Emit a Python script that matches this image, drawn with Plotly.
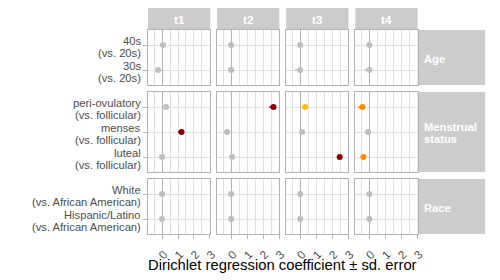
import plotly.graph_objects as go

# ---------------- data ----------------
topics = ["t1", "t2", "t3", "t4"]
groups = ["Age", "Menstrual status", "Race"]
terms = ["40s", "30s", "peri-ovulatory", "menses", "luteal", "White", "Hispanic/Latino"]
term_refs = ["(vs. 20s)", "(vs. 20s)", "(vs. follicular)", "(vs. follicular)",
             "(vs. follicular)", "(vs. African American)", "(vs. African American)"]
term_group = ["Age", "Age", "Menstrual status", "Menstrual status",
              "Menstrual status", "Race", "Race"]

coef_t1 = [0.06, -0.25, 0.25, 1.22, 0.00, 0.00, 0.00]
coef_t2 = [0.00, 0.00, 2.65, -0.25, 0.06, 0.00, 0.00]
coef_t3 = [0.00, 0.00, 0.31, 0.12, 2.47, 0.00, 0.00]
coef_t4 = [0.00, 0.00, -0.43, -0.08, -0.37, 0.00, 0.00]

se_t1 = [0.04, 0.08, 0.06, 0.22, 0.05, 0.03, 0.03]
se_t2 = [0.03, 0.04, 0.26, 0.06, 0.08, 0.03, 0.03]
se_t3 = [0.03, 0.32, 0.19, 0.08, 0.06, 0.03, 0.03]
se_t4 = [0.03, 0.30, 0.27, 0.14, 0.08, 0.03, 0.03]

sig_t1 = ["ns", "ns", "ns", "***", "ns", "ns", "ns"]
sig_t2 = ["ns", "ns", "***", "ns", "ns", "ns", "ns"]
sig_t3 = ["ns", "ns", "*", "ns", "***", "ns", "ns"]
sig_t4 = ["ns", "ns", "**", "ns", "**", "ns", "ns"]

x_title = "Dirichlet regression coefficient \u00b1 sd. error"

coefs = [coef_t1, coef_t2, coef_t3, coef_t4]
ses = [se_t1, se_t2, se_t3, se_t4]
sigs = [sig_t1, sig_t2, sig_t3, sig_t4]

# ---------------- style / layout ----------------
sig_colors = {"ns": "#BEBEBE", "*": "#FFB90F", "**": "#FF8C00", "***": "#8B0000"}
OFF = 8                     # default page body margin of the browser
W, H = 500 - OFF, 280 - OFF  # figure size so that page fits the 500x280 window
FONT = "Liberation Sans, Arial, sans-serif"
col_x0 = [150.0, 220.1, 290.2, 360.3]
col_w = 63.2
row_y = [(30, 85), (92, 172), (179, 234)]
strip_top = (7, 30)
strip_right = (423.5, 492)
border = "#B3B3B3"
grid = "#E0E0E0"
strip_fill = "#CCCCCC"
txt_col = "#4D4D4D"


def fx(p):
    return (p - OFF) / W


def fy(p):
    return 1 - (p - OFF) / H


fig = go.Figure()
layout = {}
annotations = []
shapes = []

for r, g in enumerate(groups):
    gterms = [t for t, tg in zip(terms, term_group) if tg == g]
    cats = list(reversed(gterms))  # first category at the bottom
    for c, tp in enumerate(topics):
        k = r * 4 + c + 1
        xa = "x" if k == 1 else f"x{k}"
        ya = "y" if k == 1 else f"y{k}"
        xkey = "xaxis" if k == 1 else f"xaxis{k}"
        ykey = "yaxis" if k == 1 else f"yaxis{k}"
        bottom = r == len(groups) - 1
        layout[xkey] = dict(
            domain=[fx(col_x0[c]), fx(col_x0[c] + col_w)], anchor=ya,
            range=[-0.88, 3.02], tick0=0, dtick=1,
            showgrid=True, gridcolor=grid, gridwidth=1,
            minor=dict(dtick=0.5, tick0=0, showgrid=True, gridcolor=grid, gridwidth=1),
            zeroline=True, zerolinecolor=border, zerolinewidth=1.2,
            showline=True, mirror=True, linecolor=border, linewidth=1,
            ticks="outside" if bottom else "", ticklen=4, tickcolor=border,
            showticklabels=bottom, tickangle=-45,
            ticklabelstandoff=4, ticklabelshift=2,
            tickfont=dict(family=FONT, size=11.7, color=txt_col),
        )
        layout[ykey] = dict(
            domain=[fy(row_y[r][1]), fy(row_y[r][0])], anchor=xa,
            type="category", categoryorder="array", categoryarray=cats,
            range=[-0.6, len(cats) - 0.4],
            showgrid=True, gridcolor=grid, gridwidth=1, zeroline=False,
            showline=True, mirror=True, linecolor=border, linewidth=1,
            ticks="outside" if c == 0 else "", ticklen=4, tickcolor=border,
            showticklabels=False,
        )
        # points by significance level
        for lvl, colr in sig_colors.items():
            xs, ys, es = [], [], []
            for i, t in enumerate(terms):
                if term_group[i] == g and sigs[c][i] == lvl:
                    xs.append(coefs[c][i])
                    ys.append(t)
                    es.append(ses[c][i])
            if not xs:
                continue
            fig.add_trace(go.Scatter(
                x=xs, y=ys, xaxis=xa, yaxis=ya, mode="markers",
                marker=dict(color=colr, size=6, line=dict(width=0)),
                error_x=dict(type="data", symmetric=False,
                             array=[0] * len(es), arrayminus=es,
                             color=colr, thickness=1.5, width=0),
                showlegend=False, hoverinfo="skip",
            ))
        # y labels (first column only), one annotation per text line
        if c == 0:
            for i, t in enumerate(terms):
                if term_group[i] != g:
                    continue
                idx = cats.index(t)
                annotations.append(dict(
                    x=fx(144), xref="paper", y=idx, yref=ya,
                    text=t, showarrow=False, xanchor="right", yanchor="middle",
                    yshift=4.2, borderpad=0,
                    font=dict(family=FONT, size=11.2, color=txt_col)))
                annotations.append(dict(
                    x=fx(144), xref="paper", y=idx, yref=ya,
                    text=term_refs[i], showarrow=False, xanchor="right",
                    yanchor="middle", yshift=-8.3, borderpad=0,
                    font=dict(family=FONT, size=11.2, color=txt_col)))
        # top strips
        if r == 0:
            shapes.append(dict(type="rect", xref="paper", yref="paper",
                               x0=fx(col_x0[c]), x1=fx(col_x0[c] + col_w),
                               y0=fy(strip_top[1]), y1=fy(strip_top[0]),
                               fillcolor=strip_fill, line=dict(width=0), layer="below"))
            annotations.append(dict(
                x=fx(col_x0[c] + col_w / 2), y=fy((strip_top[0] + strip_top[1]) / 2 + 1),
                xref="paper", yref="paper", text=tp, showarrow=False,
                xanchor="center", yanchor="middle",
                font=dict(family=FONT, size=11.7, color="white", weight="bold")))
    # right strips
    shapes.append(dict(type="rect", xref="paper", yref="paper",
                       x0=fx(strip_right[0]), x1=fx(strip_right[1]),
                       y0=fy(row_y[r][1]), y1=fy(row_y[r][0]),
                       fillcolor=strip_fill, line=dict(width=0), layer="below"))
    words = g.split(" ")
    mid = (row_y[r][0] + row_y[r][1]) / 2 + 1
    n = len(words)
    for j, wd in enumerate(words):
        annotations.append(dict(
            x=fx(429), y=fy(mid + (j - (n - 1) / 2) * 12.5), xref="paper", yref="paper",
            text=wd, showarrow=False, xanchor="left", yanchor="middle", borderpad=0,
            font=dict(family=FONT, size=11.2, color="white", weight="bold")))

annotations.append(dict(
    x=fx((col_x0[0] + col_x0[3] + col_w) / 2), y=fy(264.5), xref="paper", yref="paper",
    text=x_title, showarrow=False, xanchor="center", yanchor="middle",
    font=dict(family=FONT, size=14.8, color="black")))

fig.update_layout(
    width=W, height=H, margin=dict(l=0, r=0, t=0, b=0),
    paper_bgcolor="white", plot_bgcolor="white",
    annotations=annotations, shapes=shapes, showlegend=False,
    **layout,
)

fig.write_html("out.html", config={"displayModeBar": False})
